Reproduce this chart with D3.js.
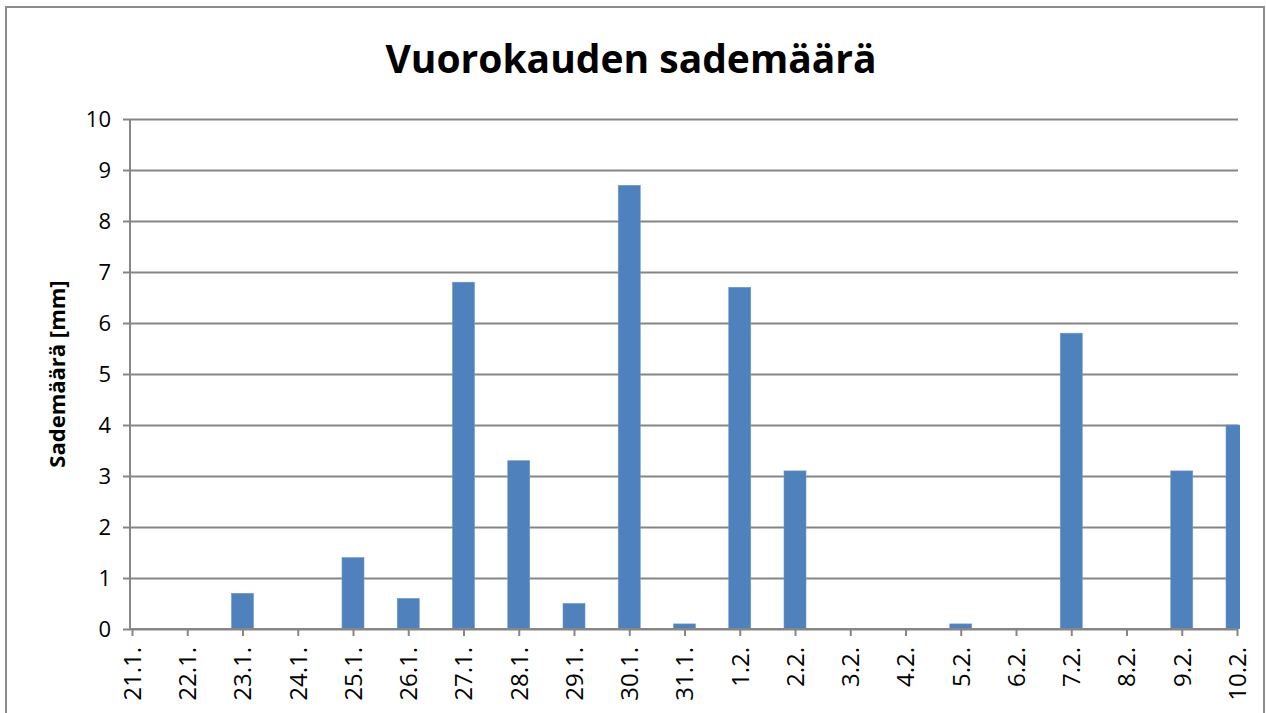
<!DOCTYPE html>
<html>
<head>
<meta charset="utf-8">
<script src="https://cdn.jsdelivr.net/npm/d3@7"></script>
<style>
  body { margin: 0; background: #fff; }
  text { font-family: "Open Sans", "Liberation Sans", sans-serif; }
</style>
</head>
<body>
<div id="chart"></div>
<script>
// Vuorokauden sademäärä - daily rainfall bar chart

// Data
var days = ["21.1.", "22.1.", "23.1.", "24.1.", "25.1.", "26.1.", "27.1.", "28.1.", "29.1.", "30.1.", "31.1.",
            "1.2.", "2.2.", "3.2.", "4.2.", "5.2.", "6.2.", "7.2.", "8.2.", "9.2.", "10.2."];
var rain = [0, 0, 0.7, 0, 1.4, 0.6, 6.8, 3.3, 0.5, 8.7, 0.1,
            6.7, 3.1, 0, 0, 0.1, 0, 5.8, 0, 3.1, 4.0];
var yTicks = [0, 1, 2, 3, 4, 5, 6, 7, 8, 9, 10];

var svgWidth = 1266;
var svgHeight = 713;

// plot area
var margin = { top: 119, right: 28, bottom: 84, left: 130 };
var width = svgWidth - margin.left - margin.right;
var height = svgHeight - margin.top - margin.bottom;

var svg = d3.select("#chart")
  .append("svg")
  .attr("width", svgWidth)
  .attr("height", svgHeight);

// outer chart border
svg.append("rect")
  .attr("x", 6)
  .attr("y", 7)
  .attr("width", 1258)
  .attr("height", 720)
  .attr("fill", "none")
  .attr("stroke", "#8c8c8c")
  .attr("stroke-width", 2);

var chartGroup = svg.append("g")
  .attr("transform", `translate(${margin.left}, ${margin.top})`);

svg.append("defs").append("clipPath")
  .attr("id", "plotClip")
  .append("rect")
  .attr("x", 0)
  .attr("y", -5)
  .attr("width", width + 2)
  .attr("height", height + 5);

// scales
var xScale = d3.scalePoint()
  .domain(days)
  .range([2, 1107]);

var yScale = d3.scaleLinear()
  .domain([0, 10])
  .range([height, 0]);

// gridlines + y axis
var leftAxis = d3.axisLeft(yScale)
  .tickValues(yTicks)
  .tickSize(-width)
  .tickPadding(19)
  .tickFormat(d3.format("d"));

var yAxisG = chartGroup.append("g").call(leftAxis);
yAxisG.select(".domain").remove();
yAxisG.selectAll(".tick line")
  .attr("x1", -7)
  .attr("stroke", "#868686")
  .attr("stroke-width", 2);
yAxisG.selectAll(".tick text")
  .attr("font-size", "22px")
  .attr("fill", "#000");

// bars
chartGroup.append("g")
  .attr("clip-path", "url(#plotClip)")
  .selectAll("rect")
  .data(rain)
  .enter()
  .append("rect")
  .attr("x", (d, i) => xScale(days[i]) - 11)
  .attr("y", d => yScale(d))
  .attr("width", 22)
  .attr("height", d => height - yScale(d))
  .attr("fill", "#4f81bd")
  .attr("stroke", "#6f98c8")
  .attr("stroke-width", 0.6);

// vertical axis line
chartGroup.append("line")
  .attr("x1", 0).attr("x2", 0)
  .attr("y1", 0).attr("y2", height)
  .attr("stroke", "#868686")
  .attr("stroke-width", 2);

// x axis
var bottomAxis = d3.axisBottom(xScale)
  .tickSize(7)
  .tickSizeOuter(0)
  .tickPadding(10);

var xAxisG = chartGroup.append("g")
  .attr("transform", `translate(0, ${height})`)
  .call(bottomAxis);
xAxisG.select(".domain")
  .attr("stroke", "#868686")
  .attr("stroke-width", 2)
  .attr("d", `M0,0H${width - 2}`);
xAxisG.selectAll(".tick line")
  .attr("stroke", "#868686")
  .attr("stroke-width", 2);
xAxisG.selectAll(".tick text")
  .attr("font-size", "24px")
  .attr("fill", "#000")
  .attr("transform", "rotate(-90)")
  .attr("text-anchor", "end")
  .attr("x", -18)
  .attr("y", 0)
  .attr("dy", "0.35em");

// title
svg.append("text")
  .attr("x", 631)
  .attr("y", 73)
  .attr("text-anchor", "middle")
  .attr("font-size", "39px")
  .attr("font-weight", "bold")
  .text("Vuorokauden sademäärä");

// y axis label
svg.append("text")
  .attr("transform", `translate(65, ${margin.top + height / 2}) rotate(-90)`)
  .attr("text-anchor", "middle")
  .attr("font-size", "22px")
  .attr("font-weight", "bold")
  .text("Sademäärä [mm]");
</script>
</body>
</html>
